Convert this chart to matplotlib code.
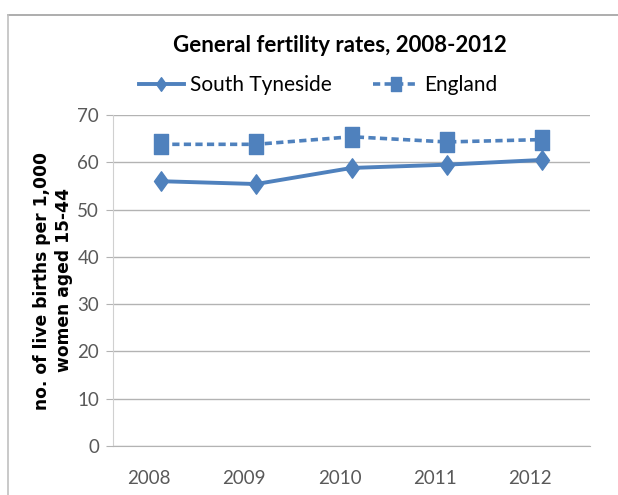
import matplotlib
matplotlib.use("Agg")
import matplotlib.pyplot as plt
import matplotlib.transforms as mtransforms
from matplotlib.lines import Line2D
from matplotlib.path import Path

# General fertility rates (live births per 1,000 women aged 15-44)
years = ["2008", "2009", "2010", "2011", "2012"]
south_tyneside = [56.0, 55.4, 58.8, 59.5, 60.5]
england = [63.8, 63.8, 65.4, 64.3, 64.8]
y_ticks = [0, 10, 20, 30, 40, 50, 60, 70]

blue = "#4F81BD"
grid_grey = "#B3B3B3"
text_grey = "#595959"
sans = ["Lato", "DejaVu Sans"]

# tall diamond and tall square markers
diamond = Path([(0, -0.5), (0.36, 0), (0, 0.5), (-0.36, 0), (0, -0.5)],
               [Path.MOVETO, Path.LINETO, Path.LINETO, Path.LINETO, Path.CLOSEPOLY])
square = Path([(-0.34, -0.5), (0.34, -0.5), (0.34, 0.5), (-0.34, 0.5), (-0.34, -0.5)],
              [Path.MOVETO, Path.LINETO, Path.LINETO, Path.LINETO, Path.CLOSEPOLY])

fig = plt.figure(figsize=(6.18, 4.95), dpi=100)
ax = fig.add_axes([113 / 618, 1 - 446 / 495, 477 / 618, 331 / 495])

x = range(len(years))
l1, = ax.plot(x, south_tyneside, color=blue, lw=2.8, marker=diamond, ms=14,
              mec=blue, mfc=blue, label="South Tyneside", zorder=3)
l2, = ax.plot(x, england, color=blue, lw=2.6, ls=(0, (2.0, 1.2)), marker=square, ms=14,
              mec=blue, mfc=blue, label="England", zorder=3)

ax.set_xlim(-0.5, 4.5)
ax.set_ylim(0, 70)
ax.set_yticks(y_ticks)
ax.set_xticks(list(x))
ax.set_xticklabels(years)
ax.grid(axis="y", color=grid_grey, lw=1)
ax.set_axisbelow(True)
for side in ["top", "right"]:
    ax.spines[side].set_visible(False)
ax.spines["left"].set_color("#D0D0D0")
ax.spines["bottom"].set_color(grid_grey)
ax.tick_params(axis="y", length=5, color=grid_grey, labelcolor=text_grey, pad=5)
ax.tick_params(axis="x", length=0, labelcolor=text_grey, pad=17)
for lab in ax.get_xticklabels() + ax.get_yticklabels():
    lab.set_family(sans)
    lab.set_fontsize(13.5)
# year labels sit a little left of their points
shift = mtransforms.ScaledTranslation(-12 / 100, 0, fig.dpi_scale_trans)
for lab in ax.get_xticklabels():
    lab.set_transform(lab.get_transform() + shift)

ax.set_ylabel("no. of live births per 1,000\nwomen aged 15-44", fontsize=12.3,
              fontweight="bold", family="DejaVu Sans", linespacing=1.3, labelpad=3)

fig.text(0.55, 0.908, "General fertility rates, 2008-2012", ha="center", va="center",
         fontsize=16, fontweight="bold", family=sans)

fig.legend(handles=[l1, l2], loc="center", bbox_to_anchor=(0.515, 0.828), ncol=2,
           frameon=False, markerscale=0.7, handlelength=2.15, columnspacing=2.0,
           handletextpad=0.3, prop={"family": sans, "size": 15})

# outer frame, top and left edges
fig.add_artist(Line2D([8 / 618, 1], [1 - 15 / 495, 1 - 15 / 495], color="#A0A0A0", lw=1.2))
fig.add_artist(Line2D([8 / 618, 8 / 618], [0, 1 - 15 / 495], color="#C0C0C0", lw=1.2))

fig.savefig("out.png", dpi=100)
